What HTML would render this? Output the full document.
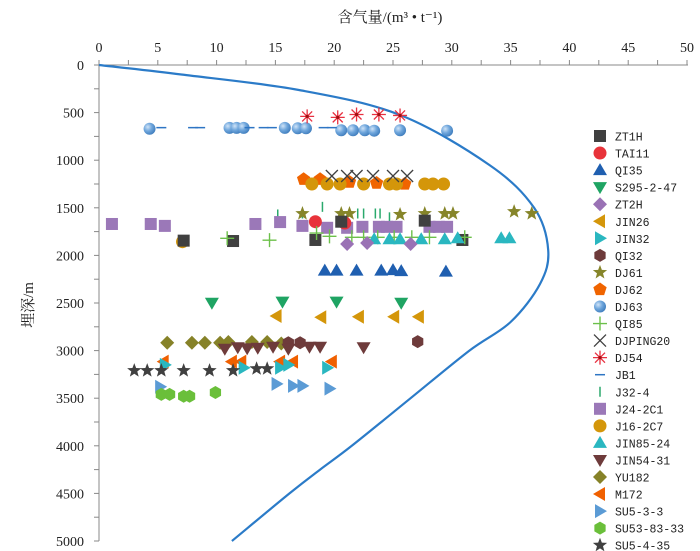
<!DOCTYPE html>
<html><head><meta charset="utf-8"><style>
html,body{margin:0;padding:0;background:#fff;}
svg{display:block;font-family:"Liberation Serif","Noto Serif CJK SC",serif;}
</style></head><body>
<svg id="chart" width="700" height="551" viewBox="0 0 700 551" xmlns="http://www.w3.org/2000/svg">
<defs><radialGradient id="ball" cx="35%" cy="35%" r="70%"><stop offset="0" stop-color="#cfe3f7"/><stop offset="0.5" stop-color="#6fa6dc"/><stop offset="1" stop-color="#3f7dbd"/></radialGradient></defs>
<text x="390" y="22" font-size="15" text-anchor="middle" fill="#222" font-family="'Liberation Serif','Noto Serif CJK SC',serif">含气量/(m³ • t⁻¹)</text>
<text transform="translate(33,305) rotate(-90)" font-size="15" text-anchor="middle" fill="#222" font-family="'Liberation Serif','Noto Serif CJK SC',serif">埋深/m</text>
<g id="axes"></g><g id="curve"></g><g id="marks"></g><g id="legend"></g>
</svg>
<script>
const xTicks=[0,5,10,15,20,25,30,35,40,45,50];
const yTicks=[0,500,1000,1500,2000,2500,3000,3500,4000,4500,5000];
const curveDepth=[0,100,263,525,1050,1500,1945,2300,2700,3000,3500,4000,4250,4500,5000];
const curveGas=[0,7,17,25.6,33.2,37,38.2,37.5,35,31.5,26.5,21.5,18.8,16.2,11.3];
const seriesNames=["ZT1H","TAI11","QI35","S295-2-47","ZT2H","JIN26","JIN32","QI32","DJ61","DJ62","DJ63","QI85","DJPING20","DJ54","JB1","J32-4","J24-2C1","J16-2C7","JIN85-24","JIN54-31","YU182","M172","SU5-3-3","SU53-83-33","SU5-4-35"];
const seriesShape=["square","circle","up","down","diamond","left","right","hex","star","pent","ball","plus","x","ast","hdash","vdash","square","circle","up","down","diamond","left","right","hex","star"];
const seriesColor=["#404040","#e8333a","#1f5fb0","#1fa463","#9a72b5","#d4960a","#2ab7c0","#6e3b3b","#86852a","#f06400","#5b9bd5","#6cc04a","#404040","#e83040","#2e75c4","#2aa96c","#9b78b8","#d4960a","#2ab7c0","#6e3b3b","#868228","#f06000","#5b9bd5","#6abf3a","#404040"];
const gasZT1H=[7.2,11.4,18.4,20.6,27.7,30.9];const depZT1H=[1845,1849,1838,1646,1635,1838];
const gasTAI11=[18.4,20.9];const depTAI11=[1646,1660];
const gasQI35=[19.2,20.2,21.9,24.0,25.0,25.7,29.5];const depQI35=[2160,2160,2160,2160,2155,2165,2170];
const gasS295=[9.6,15.6,20.2,25.7];const depS295=[2497,2486,2486,2497];
const gasZT2H=[21.1,22.8,26.5];const depZT2H=[1880,1870,1880];
const gasJIN26=[15.1,18.9,22.1,25.1,27.2];const depJIN26=[2637,2650,2644,2644,2644];
const gasJIN32=[5.6,12.3,15.4,16.1,19.4];const depJIN32=[3150,3180,3180,3150,3180];
const gasQI32=[16.1,17.1,27.1];const depQI32=[2917,2917,2906];
const gasDJ61=[17.3,20.6,21.3,25.6,27.7,29.4,30.1,35.3,36.8];const depDJ61=[1560,1560,1560,1570,1560,1560,1560,1540,1560];
const gasDJ62=[17.4,18.8,21.3,23.6,26.0];const depDJ62=[1200,1200,1230,1240,1250];
const gasDJ63=[4.3,11.1,11.7,12.3,15.8,16.9,17.6,20.6,21.6,22.6,23.4,25.6,29.6];const depDJ63=[670,660,660,660,660,665,665,685,685,685,690,685,690];
const gasQI85=[10.9,14.5,18.5,19.6,21.5,22.5,23.7,25.1,26.6,28.1,31.1];const depQI85=[1820,1840,1765,1800,1810,1810,1810,1810,1810,1810,1810];
const gasDJPING20=[19.8,21.1,21.9,23.3,25.0,26.2];const depDJPING20=[1166,1166,1166,1166,1166,1166];
const gasDJ54=[17.7,20.3,21.9,23.8,25.6];const depDJ54=[540,550,520,520,530];
const gasJB1=[5.3,8.0,8.6,12.8,14.0,14.7,19.1,19.8];const depJB1=[658,658,658,658,658,658,658,658];
const gasJ324=[15.2,17.3,19.0,20.6,22.0,22.5,23.5,23.9,24.7];const depJ324=[1570,1560,1490,1560,1560,1560,1560,1560,1600];
const gasJ24=[1.1,4.4,5.6,13.3,15.4,17.3,19.4,21.1,22.4,23.8,24.5,25.3,28.1,28.9,29.6];const depJ24=[1670,1670,1690,1670,1650,1690,1710,1710,1700,1700,1700,1700,1700,1700,1700];
const gasJ16=[7.1,18.1,19.4,20.5,22.5,24.7,25.3,27.7,28.4,29.3];const depJ16=[1856,1250,1250,1250,1250,1250,1250,1250,1250,1250];
const gasJIN85=[23.4,24.7,25.6,27.4,29.4,30.5,34.2,34.9];const depJIN85=[1830,1830,1830,1830,1830,1820,1820,1820];
const gasJIN54=[10.7,11.8,12.6,13.5,14.8,16.1,17.9,18.8,22.5];const depJIN54=[2980,2965,2975,2970,2960,2980,2960,2960,2965];
const gasYU182=[5.8,7.9,9.0,10.3,11.0,13.0,14.3,15.5];const depYU182=[2917,2917,2917,2917,2910,2910,2910,2925];
const gasM172=[5.5,11.3,12.1,15.4,16.5,19.8];const depM172=[3116,3116,3116,3116,3116,3116];
const gasSU533=[5.2,15.1,16.5,17.3,19.6];const depSU533=[3380,3350,3370,3370,3400];
const gasSU53=[5.3,6.0,7.2,7.7,9.9];const depSU53=[3460,3460,3480,3480,3440];
const gasSU54=[3.0,4.1,5.3,7.2,9.4,11.4,13.4,14.3];const depSU54=[3210,3210,3210,3210,3210,3210,3190,3190];
const seriesGas=[gasZT1H,gasTAI11,gasQI35,gasS295,gasZT2H,gasJIN26,gasJIN32,gasQI32,gasDJ61,gasDJ62,gasDJ63,gasQI85,gasDJPING20,gasDJ54,gasJB1,gasJ324,gasJ24,gasJ16,gasJIN85,gasJIN54,gasYU182,gasM172,gasSU533,gasSU53,gasSU54];
const seriesDep=[depZT1H,depTAI11,depQI35,depS295,depZT2H,depJIN26,depJIN32,depQI32,depDJ61,depDJ62,depDJ63,depQI85,depDJPING20,depDJ54,depJB1,depJ324,depJ24,depJ16,depJIN85,depJIN54,depYU182,depM172,depSU533,depSU53,depSU54];

const NS="http://www.w3.org/2000/svg";
const X0=99,X1=687,Y0=65,Y1=541;
function xs(v){return X0+(v-0)/(50-0)*(X1-X0);}
function ys(v){return Y0+(v-0)/(5000-0)*(Y1-Y0);}
function mk(tag,attrs,parent){const e=document.createElementNS(NS,tag);for(const k in attrs)e.setAttribute(k,attrs[k]);parent.appendChild(e);return e;}
const axes=document.getElementById('axes');
const xl=mk('line',{x1:X0,y1:Y0,x2:X1+1,y2:Y0,stroke:'#888','stroke-width':1},axes);


const yl=mk('line',{x1:X0,y1:Y0,x2:X0,y2:Y1,stroke:'#888','stroke-width':1},axes);


for(let i=0;i<=20;i++){const x=xs(i*2.5);mk('line',{x1:x,y1:Y0,x2:x,y2:Y0-5,stroke:'#888'},axes);}
for(let i=0;i<=20;i++){const y=ys(i*250);mk('line',{x1:X0,y1:y,x2:X0-5,y2:y,stroke:'#888'},axes);}
xTicks.forEach(t=>{const e=mk('text',{x:xs(t),y:52,'font-size':14,'text-anchor':'middle',fill:'#222'},axes);e.textContent=t;

});
yTicks.forEach(t=>{const e=mk('text',{x:84,y:ys(t)+5,'font-size':14,'text-anchor':'end',fill:'#222'},axes);e.textContent=t;

});
// smooth curve (Catmull-Rom)
const pts=curveDepth.map((dep,i)=>[xs(curveGas[i]),ys(dep)]);
let d='M'+pts[0][0].toFixed(1)+' '+pts[0][1].toFixed(1);
for(let i=0;i<pts.length-1;i++){
 const p0=pts[Math.max(0,i-1)],p1=pts[i],p2=pts[i+1],p3=pts[Math.min(pts.length-1,i+2)];
 const c1=[p1[0]+(p2[0]-p0[0])/6,p1[1]+(p2[1]-p0[1])/6];
 const c2=[p2[0]-(p3[0]-p1[0])/6,p2[1]-(p3[1]-p1[1])/6];
 d+=' C'+c1[0].toFixed(1)+' '+c1[1].toFixed(1)+' '+c2[0].toFixed(1)+' '+c2[1].toFixed(1)+' '+p2[0].toFixed(1)+' '+p2[1].toFixed(1);
}
const cv=mk('path',{d:d,fill:'none',stroke:'#2b7bc8','stroke-width':2.2,'stroke-linejoin':'round'},document.getElementById('curve'));


function poly(n,r,rot){let p=[];for(let i=0;i<n;i++){const a=rot+i*2*Math.PI/n;p.push((r*Math.cos(a)).toFixed(2)+','+(r*Math.sin(a)).toFixed(2));}return p.join(' ');}
function starPts(r){let p=[];for(let i=0;i<10;i++){const a=-Math.PI/2+i*Math.PI/5;const rr=i%2?r*0.42:r;p.push((rr*Math.cos(a)).toFixed(2)+','+(rr*Math.sin(a)).toFixed(2));}return p.join(' ');}
function marker(g,shape,c,x,y){
 const t={transform:'translate('+x+','+y+')'};const h=mk('g',t,g);
 switch(shape){
 case 'square':mk('rect',{x:-6,y:-6,width:12,height:12,fill:c},h);break;
 case 'circle':mk('circle',{r:6.5,fill:c},h);break;
 case 'ball':mk('circle',{r:6,fill:'url(#ball)'},h);break;
 case 'up':mk('polygon',{points:'0,-7 7,5 -7,5',fill:c},h);break;
 case 'down':mk('polygon',{points:'0,7 7,-5 -7,-5',fill:c},h);break;
 case 'left':mk('polygon',{points:'-7,0 5,-7 5,7',fill:c},h);break;
 case 'right':mk('polygon',{points:'7,0 -5,-7 -5,7',fill:c},h);break;
 case 'diamond':mk('polygon',{points:'0,-7 7,0 0,7 -7,0',fill:c},h);break;
 case 'hex':mk('polygon',{points:poly(6,6.5,Math.PI/6),fill:c},h);break;
 case 'pent':mk('polygon',{points:poly(5,7,-Math.PI/2),fill:c},h);break;
 case 'star':mk('polygon',{points:starPts(7.5),fill:c},h);break;
 case 'plus':mk('path',{d:'M-7 0H7M0 -7V7',stroke:c,'stroke-width':1.4},h);break;
 case 'x':mk('path',{d:'M-6 -6L6 6M6 -6L-6 6',stroke:c,'stroke-width':1.3},h);break;
 case 'ast':mk('path',{d:'M-7 0H7M0 -7V7M-5 -5L5 5M5 -5L-5 5',stroke:c,'stroke-width':1.3},h);mk('circle',{r:1.6,fill:'#a01010'},h);break;
 case 'hdash':mk('path',{d:'M-5 0H5',stroke:c,'stroke-width':1.5},h);break;
 case 'vdash':mk('path',{d:'M0 -5V5',stroke:c,'stroke-width':1.5},h);break;
 }
 return h;
}
const marks=document.getElementById('marks');
const order=[10,14,13,9,17,12,15,8,16,1,0,11,18,4,2,3,5,20,7,19,21,6,24,22,23];
order.forEach(si=>{
 const g=mk('g',{},marks);
 
 
 seriesGas[si].forEach((v,i)=>{
  const m=marker(g,seriesShape[si],seriesColor[si],xs(v),ys(seriesDep[si][i]));
  
  
 });
});
const lg=document.getElementById('legend');


seriesNames.forEach((n,i)=>{
 const y=136+i*17.05;
 const g=mk('g',{},lg);
 
 
 marker(g,seriesShape[i],seriesColor[i],600,y);
 const t=mk('text',{x:615,y:y+4.5,'font-size':11.5,fill:'#222','font-family':"'Liberation Mono',monospace"},g);
 t.textContent=n;
});
</script>
</body></html>
